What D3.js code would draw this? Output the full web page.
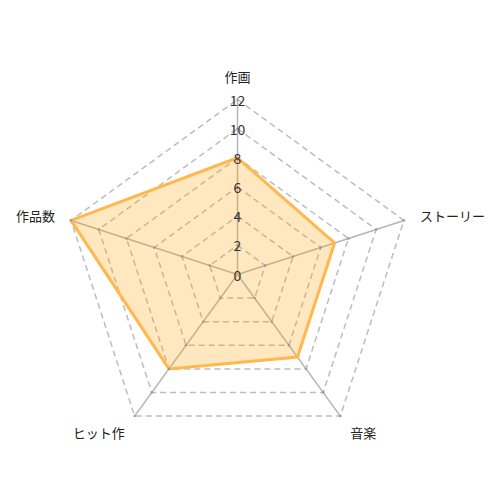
<!DOCTYPE html>
<html>
<head>
<meta charset="utf-8">
<script src="https://cdn.jsdelivr.net/npm/d3@7"></script>
<style>
  body { margin: 0; background: #fff; }
  svg { display: block; font-family: "Noto Sans CJK JP", "Noto Sans", sans-serif; }
</style>
</head>
<body>
<div id="chart"></div>
<script>
// Radar chart data
const axes = ['作画', 'ストーリー', '音楽', 'ヒット作', '作品数'];
const values = [8, 7, 7, 8, 12];
const ticks = [0, 2, 4, 6, 8, 10, 12];

const width = 500, height = 500;
const cx = 237.5, cy = 274.5;
const radius = 175;

const svg = d3.select('#chart')
    .append('svg')
    .attr('width', width)
    .attr('height', height);

const chart = svg.append('g')
    .attr('transform', `translate(${cx}, ${cy})`);

const scaleR = d3.scaleLinear()
    .domain([0, d3.max(ticks)])
    .range([0, radius]);

const angle = i => i * 2 * Math.PI / axes.length;
const point = (i, v) => [Math.sin(angle(i)) * scaleR(v), -Math.cos(angle(i)) * scaleR(v)];

// Grid (dashed pentagons)
chart.selectAll('.grid')
    .data(ticks.filter(t => t > 0))
    .join('polygon')
    .attr('class', 'grid')
    .attr('points', t => axes.map((a, i) => point(i, t).join(',')).join(' '))
    .attr('fill', 'none')
    .attr('stroke', '#bdbdbd')
    .attr('stroke-width', 1.5)
    .attr('stroke-dasharray', '6,4');

// Axis lines
chart.selectAll('.axis')
    .data(axes)
    .join('line')
    .attr('class', 'axis')
    .attr('x1', 0).attr('y1', 0)
    .attr('x2', (a, i) => point(i, d3.max(ticks))[0])
    .attr('y2', (a, i) => point(i, d3.max(ticks))[1])
    .attr('stroke', '#b5b5b5')
    .attr('stroke-width', 1.5);

// Data area
chart.append('polygon')
    .datum(values)
    .attr('points', d => d.map((v, i) => point(i, v).join(',')).join(' '))
    .attr('fill', 'rgba(255,165,0,0.25)')
    .attr('stroke', '#ffb84d')
    .attr('stroke-width', 3)
    .attr('stroke-linejoin', 'miter');

// Small markers where grid meets axis
const marks = [];
axes.forEach((a, i) => ticks.filter(t => t > 0).forEach(t => marks.push(point(i, t))));
chart.selectAll('.mark')
    .data(marks)
    .join('circle')
    .attr('class', 'mark')
    .attr('cx', d => d[0])
    .attr('cy', d => d[1])
    .attr('r', 1.2)
    .attr('fill', '#999');

// Tick labels along the top axis
chart.selectAll('.tick')
    .data(ticks)
    .join('text')
    .attr('class', 'tick')
    .attr('x', 0)
    .attr('y', t => -scaleR(t))
    .attr('text-anchor', 'middle')
    .attr('dominant-baseline', 'central')
    .style('font-size', '14px')
    .style('fill', '#333')
    .text(t => t);

// Axis labels
const pad = 17;
chart.selectAll('.label')
    .data(axes)
    .join('text')
    .attr('class', 'label')
    .attr('x', (a, i) => Math.sin(angle(i)) * (radius + pad))
    .attr('y', (a, i) => {
        const c = Math.cos(angle(i));
        const y = -c * (radius + pad);
        if (c > 0.5) return y - 6.5;
        if (c < -0.5) return y + 2.5;
        return y;
    })
    .attr('text-anchor', (a, i) => {
        const s = Math.sin(angle(i));
        return Math.abs(s) < 0.01 ? 'middle' : (s > 0 ? 'start' : 'end');
    })
    .attr('dominant-baseline', 'central')
    .style('font-size', '13px')
    .style('fill', '#222')
    .text(a => a);
</script>
</body>
</html>
